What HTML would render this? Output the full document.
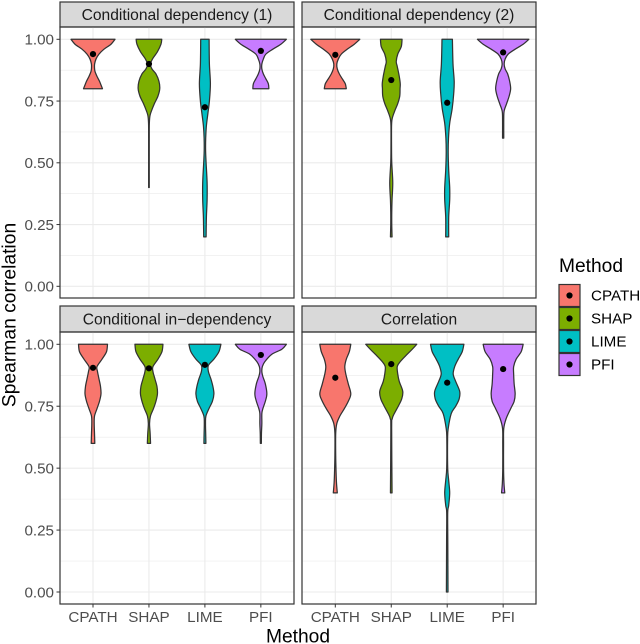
<!DOCTYPE html>
<html>
<head>
<meta charset="utf-8">
<title>Spearman correlation violin chart</title>
<style>
html,body{margin:0;padding:0;background:#fff;}
svg{display:block;font-family:"Liberation Sans",sans-serif;}
</style>
</head>
<body>
<svg id="chart" xmlns="http://www.w3.org/2000/svg" width="640" height="644" viewBox="0 0 640 644"></svg>
<script>
const methods = ['CPATH', 'SHAP', 'LIME', 'PFI'];
const facetTitles = ['Conditional dependency (1)', 'Conditional dependency (2)', 'Conditional in\u2212dependency', 'Correlation'];
const yMajorTicks = [0, 0.25, 0.5, 0.75, 1];
const yMinorTicks = [0.125, 0.375, 0.625, 0.875];
const tickLabels = ['0.00', '0.25', '0.50', '0.75', '1.00'];
const methodColors = ['#F8766D', '#7CAE00', '#00BFC4', '#C77CFF'];

const meansDep1 = [0.94, 0.90, 0.725, 0.953];
const meansDep2 = [0.937, 0.835, 0.743, 0.947];
const meansInDep = [0.905, 0.903, 0.917, 0.957];
const meansCorr = [0.865, 0.92, 0.845, 0.90];

/* each entry: [spearman level, density] */
const dep1Cpath = [[1,22],[.98,18],[.96,11],[.94,6],[.92,3],[.90,1.6],[.885,1.5],[.87,2],[.85,4],[.83,6.5],[.81,8.5],[.80,9.5]];
const dep1Shap = [[1,12.8],[.98,12],[.95,8.5],[.92,3.5],[.90,1.5],[.88,3],[.86,7],[.83,10],[.80,10.8],[.77,9],[.74,5.5],[.71,2.5],[.69,1],[.66,.4],[.6,.3],[.4,.3]];
const dep1Lime = [[1,4.2],[.9,4.5],[.82,5.5],[.75,4.5],[.7,3],[.65,1.5],[.6,.8],[.55,.7],[.5,1.2],[.42,2.2],[.35,2.2],[.28,1.5],[.2,1.2]];
const dep1Pfi = [[1,25.5],[.98,20],[.96,12],[.94,5],[.92,2.5],[.90,1],[.88,1],[.86,2.5],[.84,5],[.82,7.5],[.80,8]];

const dep2Cpath = [[1,24.5],[.98,19],[.96,12],[.94,6],[.92,3],[.90,1.5],[.88,2],[.86,4],[.84,7],[.82,10],[.80,11]];
const dep2Shap = [[1,10.8],[.97,10],[.94,6.5],[.91,5],[.89,6],[.85,8],[.82,9],[.80,8.8],[.77,8.5],[.74,6.5],[.71,3.5],[.68,1],[.65,.3],[.55,.3],[.5,.5],[.42,1.5],[.35,.8],[.3,.5],[.25,.5],[.2,.8]];
const dep2Lime = [[1,5.2],[.9,5.8],[.83,7],[.78,6.5],[.72,5],[.66,2.5],[.6,1.3],[.54,1],[.47,1.5],[.4,2.5],[.35,2.5],[.28,1.5],[.2,1.5]];
const dep2Pfi = [[1,25.7],[.98,20],[.96,12],[.94,5],[.92,2],[.90,1],[.88,2],[.86,4.5],[.83,6.5],[.80,7.5],[.77,6],[.74,3.5],[.71,1],[.68,.6],[.6,.6]];

const inDepCpath = [[1,14.5],[.97,13.5],[.94,9],[.91,4],[.89,4.5],[.86,6],[.83,7.5],[.80,8],[.77,6.5],[.74,4],[.71,1.5],[.68,1.2],[.64,1.5],[.6,1.8]];
const inDepShap = [[1,14],[.97,13],[.94,9],[.91,4],[.89,4],[.86,6],[.83,8],[.80,8.5],[.77,7],[.74,4.5],[.71,1.5],[.68,.6],[.64,1.2],[.6,1.6]];
const inDepLime = [[1,16],[.97,14],[.94,9],[.915,3.5],[.89,3.5],[.86,6],[.83,8],[.80,9],[.77,7.5],[.74,4],[.71,1],[.68,.6],[.64,.8],[.6,1]];
const inDepPfi = [[1,25.5],[.98,21],[.96,11],[.93,4],[.91,1.5],[.89,1],[.87,2],[.84,4.5],[.80,6],[.77,4.5],[.74,2],[.72,1],[.68,1],[.64,.6],[.6,.5]];

const corrCpath = [[1,15.5],[.97,14],[.94,11],[.91,9.5],[.88,10.5],[.84,13],[.80,15.5],[.77,13],[.74,9],[.71,4.5],[.68,1.5],[.64,.4],[.55,.4],[.48,.8],[.44,1.2],[.4,2]];
const corrShap = [[1,25.5],[.98,21],[.96,16],[.93,9],[.91,6],[.88,6.5],[.85,8],[.81,11.5],[.78,10.5],[.75,7],[.72,3],[.70,1],[.66,.4],[.4,.8]];
const corrLime = [[1,16.7],[.97,15],[.94,11],[.91,7.5],[.88,6],[.85,8.5],[.81,12.5],[.78,12],[.75,8.5],[.72,4],[.66,1],[.62,.4],[.5,.5],[.45,1.5],[.4,2.5],[.35,1.5],[.32,.5],[.2,.6],[0,.8]];
const corrPfi = [[1,20],[.97,18],[.94,13],[.91,10.5],[.88,10.5],[.84,11],[.80,12],[.77,11],[.74,7.5],[.70,3],[.66,.6],[.6,.4],[.5,.4],[.44,.8],[.4,1.6]];

const NS = 'http://www.w3.org/2000/svg';
const svg = document.getElementById('chart');

function make(parent, tag, attrs, text) {
  const el = document.createElementNS(NS, tag);
  for (const k in attrs) el.setAttribute(k, attrs[k]);
  if (text !== undefined) el.textContent = text;
  parent.appendChild(el);
  return el;
}
function slug(s) {
  return s.toLowerCase().replace(/[^a-z0-9]+/g, '-').replace(/^-|-$/g, '');
}

const layouts = [
  {left: 60, right: 294, stripTop: 2, stripBottom: 27, bottom: 298, y1: 39.3, y0: 286.3, cat0: 93, showY: true, showX: false},
  {left: 302, right: 536, stripTop: 2, stripBottom: 27, bottom: 298, y1: 39.3, y0: 286.3, cat0: 335.3, showY: false, showX: false},
  {left: 60, right: 294, stripTop: 306, stripBottom: 332, bottom: 604, y1: 344.3, y0: 592, cat0: 93, showY: true, showX: true},
  {left: 302, right: 536, stripTop: 306, stripBottom: 332, bottom: 604, y1: 344.3, y0: 592, cat0: 335.3, showY: false, showX: true}
];
const facetViolins = [
  [dep1Cpath, dep1Shap, dep1Lime, dep1Pfi],
  [dep2Cpath, dep2Shap, dep2Lime, dep2Pfi],
  [inDepCpath, inDepShap, inDepLime, inDepPfi],
  [corrCpath, corrShap, corrLime, corrPfi]
];
const facetMeans = [meansDep1, meansDep2, meansInDep, meansCorr];

function densityToPx(d) { return d; }
function categoryX(layout, i) { return layout.cat0 + i * 55.95; }
function valueY(layout, v) { return layout.y0 + (layout.y1 - layout.y0) * v; }

function violinPath(profile, cx, yScale) {
  const pts = profile.map(p => [densityToPx(p[1]), yScale(p[0])]);
  function side(sign, list) {
    let d = '';
    for (let i = 0; i < list.length - 1; i++) {
      const p0 = list[Math.max(i - 1, 0)], p1 = list[i], p2 = list[i + 1], p3 = list[Math.min(i + 2, list.length - 1)];
      const c1x = Math.max(p1[0] + (p2[0] - p0[0]) / 6, 0.15), c1y = p1[1] + (p2[1] - p0[1]) / 6;
      const c2x = Math.max(p2[0] - (p3[0] - p1[0]) / 6, 0.15), c2y = p2[1] - (p3[1] - p1[1]) / 6;
      d += 'C' + (cx + sign * c1x).toFixed(2) + ' ' + c1y.toFixed(2) + ' ' + (cx + sign * c2x).toFixed(2) + ' ' + c2y.toFixed(2) + ' ' + (cx + sign * p2[0]).toFixed(2) + ' ' + p2[1].toFixed(2);
    }
    return d;
  }
  const first = pts[0], last = pts[pts.length - 1];
  let d = 'M' + (cx - first[0]).toFixed(2) + ' ' + first[1].toFixed(2);
  d += 'L' + (cx + first[0]).toFixed(2) + ' ' + first[1].toFixed(2);
  d += side(1, pts);
  d += 'L' + (cx - last[0]).toFixed(2) + ' ' + last[1].toFixed(2);
  d += side(-1, pts.slice().reverse());
  return d + 'Z';
}

layouts.forEach(function (layout, f) {
  const panelName = slug(facetTitles[f]);
  const group = make(svg, 'g', {});
  
  

  const strip = make(group, 'rect', {x: layout.left, y: layout.stripTop, width: layout.right - layout.left, height: layout.stripBottom - layout.stripTop, fill: '#d9d9d9', stroke: '#333333', 'stroke-width': 1.2});
  
  

  const stripText = make(group, 'text', {x: (layout.left + layout.right) / 2, y: (layout.stripTop + layout.stripBottom) / 2 + 5.3, 'text-anchor': 'middle', 'font-size': 15.6, fill: '#1a1a1a'}, facetTitles[f]);
  
  

  yMinorTicks.forEach(function (v) {
    const line = make(group, 'line', {x1: layout.left, x2: layout.right, y1: valueY(layout, v), y2: valueY(layout, v), stroke: '#ebebeb', 'stroke-width': 0.6});
    
    
  });
  yMajorTicks.forEach(function (v, i) {
    const y = valueY(layout, v);
    const line = make(group, 'line', {x1: layout.left, x2: layout.right, y1: y, y2: y, stroke: '#ebebeb', 'stroke-width': 1.1});
    
    
    if (layout.showY) {
      const tick = make(group, 'line', {x1: layout.left - 3.5, x2: layout.left, y1: y, y2: y, stroke: '#333333', 'stroke-width': 1});
      
      
      const label = make(group, 'text', {x: layout.left - 6, y: y + 5.3, 'text-anchor': 'end', 'font-size': 15.2, fill: '#4d4d4d'}, tickLabels[i]);
      
      
    }
  });
  methods.forEach(function (m, i) {
    const x = categoryX(layout, i);
    const line = make(group, 'line', {x1: x, x2: x, y1: layout.stripBottom, y2: layout.bottom, stroke: '#ebebeb', 'stroke-width': 1.1});
    
    
    if (layout.showX) {
      const tick = make(group, 'line', {x1: x, x2: x, y1: layout.bottom, y2: layout.bottom + 3.5, stroke: '#333333', 'stroke-width': 1});
      
      
      const label = make(group, 'text', {x: x, y: layout.bottom + 18, 'text-anchor': 'middle', 'font-size': 15.2, fill: '#4d4d4d'}, m);
      
      
    }
  });

  methods.forEach(function (m, i) {
    const cx = categoryX(layout, i);
    const path = make(group, 'path', {d: violinPath(facetViolins[f][i], cx, v => valueY(layout, v)), fill: methodColors[i], stroke: '#333333', 'stroke-width': 1.25, 'stroke-linejoin': 'round'});
    
    
  });
  methods.forEach(function (m, i) {
    const cx = categoryX(layout, i);
    const dot = make(group, 'circle', {cx: cx, cy: valueY(layout, facetMeans[f][i]), r: 3.1, fill: '#000000'});
    
    
  });

  const border = make(group, 'rect', {x: layout.left, y: layout.stripBottom, width: layout.right - layout.left, height: layout.bottom - layout.stripBottom, fill: 'none', stroke: '#333333', 'stroke-width': 1.2});
  
  
});

const yTitle = make(svg, 'text', {x: 0, y: 0, transform: 'translate(15.5,315) rotate(-90)', 'text-anchor': 'middle', 'font-size': 19.3, fill: '#000000'}, 'Spearman correlation');



const xTitle = make(svg, 'text', {x: 298, y: 642.3, 'text-anchor': 'middle', 'font-size': 19.2, fill: '#000000'}, 'Method');



const legend = make(svg, 'g', {});



const legendTitle = make(legend, 'text', {x: 559, y: 272, 'font-size': 19.2, fill: '#000000'}, 'Method');



methods.forEach(function (m, i) {
  const top = 284.5 + i * 23;
  const key = make(legend, 'rect', {x: 559, y: top, width: 21, height: 22, fill: methodColors[i], stroke: '#333333', 'stroke-width': 1.2});
  
  
  const dot = make(legend, 'circle', {cx: 569.5, cy: top + 11, r: 3.1, fill: '#000000'});
  
  
  const label = make(legend, 'text', {x: 591, y: top + 16, 'font-size': 15.2, fill: '#000000'}, m);
  
  
});
</script>
</body>
</html>
